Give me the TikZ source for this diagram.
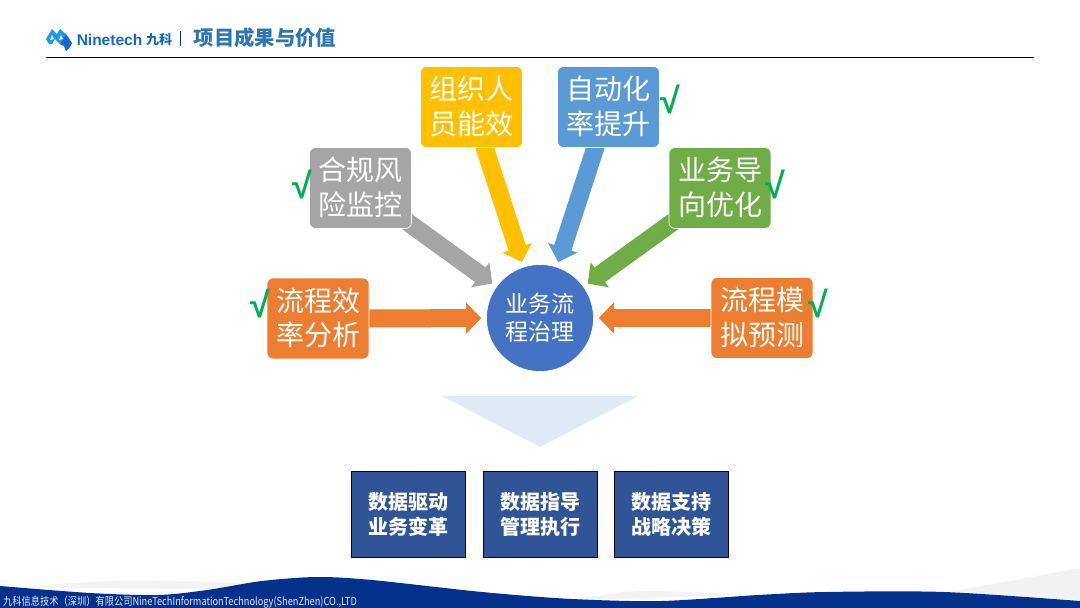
\documentclass[tikz,border=0pt]{standalone}
\usepackage{fontspec}
\setmainfont{Noto Sans CJK SC}
\newfontfamily\latinfont{Liberation Sans}
\usetikzlibrary{arrows.meta, backgrounds}

\definecolor{navyblue}{HTML}{04318C}
\definecolor{titleblue}{HTML}{2E75B6}
\definecolor{logoblue}{HTML}{1468C8}
\definecolor{skyblue}{HTML}{1E9BEA}
\definecolor{flowgray}{HTML}{A5A5A5}
\definecolor{floworange}{HTML}{ED7D31}
\definecolor{flowyellow}{HTML}{FFC000}
\definecolor{flowblue}{HTML}{5B9BD5}
\definecolor{flowgreen}{HTML}{70AD47}
\definecolor{hubblue}{HTML}{4472C4}
\definecolor{checkgreen}{HTML}{00B050}
\definecolor{resultblue}{HTML}{2F5597}
\definecolor{paleblue}{HTML}{DEEAF6}

\tikzset{
  flowbox/.style={draw=white, line width=0.6pt, rounded corners=6pt, text=white, align=center,
    minimum width=102pt, minimum height=81pt, inner sep=0pt, text depth=4pt,
    font=\fontsize{28}{34.5}\selectfont},
  flowarrow/.style={line width=18pt, -{Triangle[length=15pt, width=30pt]}, shorten >=5pt, shorten <=-14pt},
  checkmark/.style={text=checkgreen, inner sep=0pt, font=\latinfont\bfseries\fontsize{36}{36}\selectfont},
  resultbox/.style={draw=black, line width=0.8pt, fill=resultblue, text=white, align=center,
    minimum width=114pt, minimum height=86pt, inner sep=0pt,
    font=\bfseries\fontsize{20}{25}\selectfont}
}

\begin{document}
\begin{tikzpicture}[x=1pt, y=-1pt]
    \useasboundingbox (0,0) rectangle (1080,608);

    % draw the logo
    \fill[skyblue] (46,39) -- (52,29) -- (57,34) -- (60,29) -- (66,34) -- (60,44) -- (55,39) -- (52,44) -- (49,44) -- cycle;
    \fill[logoblue] (60,44) -- (66,34) -- (72,43) -- (70,47) -- (66,51) -- (64,46) -- cycle;
    \fill[white] (52,35) -- (54,39) -- (50,40) -- cycle;
    \fill[white] (61,35) -- (63,39) -- (59,40) -- cycle;
    \node (brand) at (109.5,40) [inner sep=0pt, text=logoblue, font=\latinfont\bfseries\fontsize{15.5}{16}\selectfont] {Ninetech};
    \node (brandcn) at (159,40) [inner sep=0pt, text=logoblue, font=\bfseries\fontsize{13}{13}\selectfont] {九科};
    \draw[navyblue, line width=0.7pt] (180.5,31) -- (180.5,46);

    % draw the title and the rule below it
    \node (title) at (265,38) [inner sep=0pt, text=titleblue, font=\bfseries\fontsize{20.3}{21}\selectfont] {项目成果与价值};
    \draw[black!85!blue, line width=0.8pt] (46,57.5) -- (1034,57.5);

    % draw the center circle
    \node (hub) at (540,318) [circle, fill=hubblue, draw=white, line width=0.6pt, minimum size=107pt, inner sep=0pt,
      text=white, align=center, font=\fontsize{23}{28}\selectfont] {业务流\\程治理};

    % draw the six boxes
    \node (efficiency) at (318,318.5) [flowbox, fill=floworange] {流程效\\率分析};
    \node (risk) at (360.5,188) [flowbox, fill=flowgray] {合规风\\险监控};
    \node (staff) at (471.5,107) [flowbox, fill=flowyellow] {组织人\\员能效};
    \node (auto) at (608.5,107) [flowbox, fill=flowblue] {自动化\\率提升};
    \node (business) at (720,188) [flowbox, fill=flowgreen] {业务导\\向优化};
    \node (simulation) at (762,318) [flowbox, fill=floworange] {流程模\\拟预测};

    % draw the arrows behind the boxes
    \begin{scope}[on background layer]
      \draw[flowarrow, floworange] (efficiency) -- (hub);
      \draw[flowarrow, flowgray] (risk) -- (hub);
      \draw[flowarrow, flowyellow] (staff) -- (hub);
      \draw[flowarrow, flowblue] (auto) -- (hub);
      \draw[flowarrow, flowgreen] (business) -- (hub);
      \draw[flowarrow, floworange] (simulation) -- (hub);
    \end{scope}

    % draw the check marks
    \node (checka) at (260,303) [checkmark] {√};
    \node (checkb) at (302.5,184) [checkmark] {√};
    \node (checkc) at (670.5,99) [checkmark] {√};
    \node (checkd) at (775,184) [checkmark] {√};
    \node (checke) at (818,303) [checkmark] {√};

    % draw the pale triangle
    \fill[paleblue] (442,396) -- (638,396) -- (540,447) -- cycle;

    % draw the three result boxes
    \node (drive) at (408,514) [resultbox] {数据驱动\\业务变革};
    \node (guide) at (540,514) [resultbox] {数据指导\\管理执行};
    \node (support) at (671.5,514) [resultbox] {数据支持\\战略决策};

    % draw the waves at the bottom
    \fill[black!5] plot[smooth] coordinates {(20,587) (117,581) (234,583) (262,590)} -- cycle;
    \fill[black!5] plot[smooth] coordinates {(572,600) (640,591) (750,595)} -- cycle;
    \fill[black!5] (944,593) -- (1080,568) -- (1080,600) -- cycle;
    \fill[navyblue] plot[smooth] coordinates {(0,586) (90,593) (158,595) (207,590) (262,581) (317,577) (372,580) (482,592) (572,599) (661,601) (758,595) (826,592) (944,592) (1080,601)} -- (1080,608) -- (0,608) -- cycle;

    % draw the footer text
    \node (footer) at (3,602.5) [anchor=west, inner sep=0pt, xscale=0.84, transform shape, text=white!90!blue, font=\fontsize{11}{11}\selectfont] {九科信息技术（深圳）有限公司NineTechInformationTechnology(ShenZhen)CO.,LTD};
\end{tikzpicture}
\end{document}
